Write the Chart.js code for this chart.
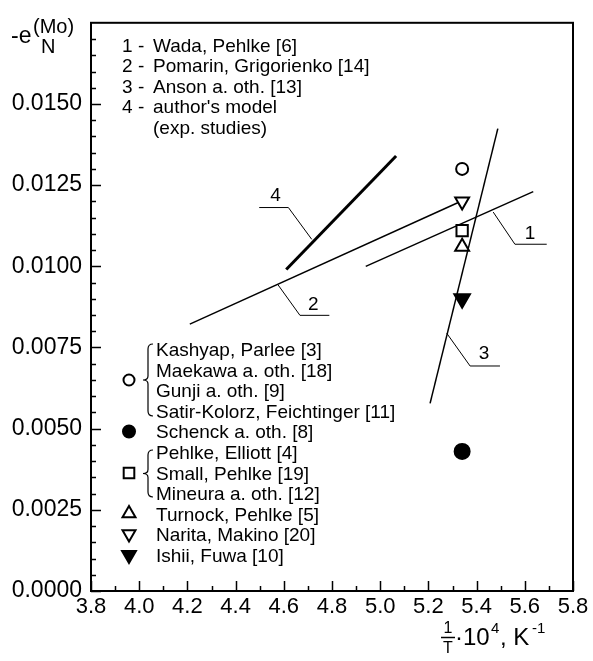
<!DOCTYPE html>
<html>
<head>
<meta charset="utf-8">
<script src="https://cdn.jsdelivr.net/npm/chart.js@4/dist/chart.umd.min.js"></script>
<style>
  html, body { margin: 0; padding: 0; background: #fff; }
  canvas { display: block; }
</style>
</head>
<body>
<canvas id="chart" width="593" height="661"></canvas>
<script>
// axis ticks
const xTicks = [3.8, 4.0, 4.2, 4.4, 4.6, 4.8, 5.0, 5.2, 5.4, 5.6, 5.8];
const yTicks = [0, 0.0025, 0.005, 0.0075, 0.01, 0.0125, 0.015];

// curves 1-4 (end points)
const line1X = [4.94, 5.635];
const line1Y = [0.0100, 0.0123];
const line2X = [4.21, 5.34];
const line2Y = [0.00822, 0.01202];
const line3X = [5.207, 5.488];
const line3Y = [0.00578, 0.01424];
const line4X = [4.61, 5.066];
const line4Y = [0.0099, 0.0134];

// experimental points, all at the same 1/T
const pointX = 5.34;
const pointY = [0.0130, 0.0043, 0.0111, 0.0106, 0.0120, 0.0090];

const curveNotes = ['Wada, Pehlke [6]', 'Pomarin, Grigorienko [14]', 'Anson a. oth. [13]', "author's model"];
const sourceNames = ['Kashyap, Parlee [3]', 'Maekawa a. oth. [18]', 'Gunji a. oth. [9]',
  'Satir-Kolorz, Feichtinger [11]', 'Schenck a. oth. [8]', 'Pehlke, Elliott [4]', 'Small, Pehlke [19]',
  'Mineura a. oth. [12]', 'Turnock, Pehlke [5]', 'Narita, Makino [20]', 'Ishii, Fuwa [10]'];

const FONT = '"Liberation Sans", Arial, Helvetica, sans-serif';

// marker look for each point, same order as pointY; lr = radius in the source list
const markers = [
  { style: 'circle', r: 6, lr: 5.5, fill: '#fff', rot: 0 },
  { style: 'circle', r: 7.5, lr: 6, fill: '#000', rot: 0 },
  { style: 'rect', r: 8, lr: 7.5, fill: '#fff', rot: 0 },
  { style: 'triangle', r: 8, lr: 7.5, fill: '#fff', rot: 0 },
  { style: 'triangle', r: 8, lr: 7.5, fill: '#fff', rot: 180 },
  { style: 'triangle', r: 9, lr: 8, fill: '#000', rot: 180 }
];

function toPoints(xs, ys) {
  return xs.map((x, i) => ({ x: x, y: ys[i] }));
}

const lineSets = [[line1X, line1Y, 1.5], [line2X, line2Y, 1.5], [line3X, line3Y, 1.5], [line4X, line4Y, 3]]
  .map(([xs, ys, w]) => ({
    type: 'line',
    data: toPoints(xs, ys),
    borderColor: '#000',
    borderWidth: w,
    pointRadius: 0,
    fill: false,
    order: 2
  }));

const pointSets = pointY.map((y, i) => ({
  data: [{ x: pointX, y: y }],
  pointStyle: markers[i].style,
  pointRadius: markers[i].r,
  rotation: markers[i].rot,
  backgroundColor: markers[i].fill,
  borderColor: '#000',
  borderWidth: 2,
  order: 1
}));

// small symbol for the source list
function drawSymbol(ctx, m, x, y) {
  const r = m.lr;
  ctx.save();
  ctx.fillStyle = m.fill;
  ctx.strokeStyle = '#000';
  ctx.lineWidth = 2;
  ctx.beginPath();
  if (m.style === 'circle') {
    ctx.arc(x, y, r, 0, Math.PI * 2);
  } else if (m.style === 'rect') {
    const s = r * Math.SQRT1_2;
    ctx.rect(x - s, y - s, 2 * s, 2 * s);
  } else {
    let a = m.rot * Math.PI / 180;
    for (let k = 0; k < 3; k++) {
      const px = x + Math.sin(a) * r, py = y - Math.cos(a) * r;
      if (k === 0) ctx.moveTo(px, py); else ctx.lineTo(px, py);
      a += Math.PI * 2 / 3;
    }
    ctx.closePath();
  }
  ctx.fill();
  ctx.stroke();
  ctx.restore();
}

function brace(ctx, x, top, bottom) {
  const mid = (top + bottom) / 2;
  ctx.beginPath();
  ctx.moveTo(x + 5, top);
  ctx.quadraticCurveTo(x, top, x, top + 5);
  ctx.lineTo(x, mid - 4);
  ctx.quadraticCurveTo(x, mid, x - 5, mid);
  ctx.quadraticCurveTo(x, mid, x, mid + 4);
  ctx.lineTo(x, bottom - 5);
  ctx.quadraticCurveTo(x, bottom, x + 5, bottom);
  ctx.stroke();
}

// leader lines for curve numbers, in data units
const leaders = [
  { label: '1', at: [5.622, 0.0110], path: [[5.469, 0.01167], [5.559, 0.01068], [5.691, 0.01068]] },
  { label: '2', at: [4.722, 0.00883], path: [[4.576, 0.00943], [4.667, 0.00849], [4.789, 0.00849]] },
  { label: '3', at: [5.431, 0.00731], path: [[5.276, 0.00794], [5.373, 0.00693], [5.497, 0.00693]] },
  { label: '4', at: [4.566, 0.01217], path: [[4.498, 0.01181], [4.619, 0.01181], [4.716, 0.01083]] }
];

const decorations = {
  id: 'decorations',
  afterDraw(chart) {
    const ctx = chart.ctx;
    const area = chart.chartArea;
    const xs = chart.scales.x, ys = chart.scales.y;
    ctx.save();
    ctx.strokeStyle = '#000';
    ctx.fillStyle = '#000';

    // frame
    ctx.lineWidth = 2;
    ctx.strokeRect(area.left, area.top, area.right - area.left, area.bottom - area.top);

    // inward ticks, major and minor
    ctx.lineWidth = 1.5;
    ctx.beginPath();
    for (let v = 0; v <= 0.01701; v += 0.0005) {
      const py = Math.round(ys.getPixelForValue(v)) + 0.5;
      const major = Math.abs(v / 0.0025 - Math.round(v / 0.0025)) < 1e-6;
      ctx.moveTo(area.left, py);
      ctx.lineTo(area.left + (major ? 10 : 5), py);
    }
    for (let v = 3.9; v <= 5.75; v += 0.2) {
      const px = Math.round(xs.getPixelForValue(v)) + 0.5;
      ctx.moveTo(px, area.bottom);
      ctx.lineTo(px, area.bottom - 5);
    }
    xTicks.forEach(v => {
      const px = Math.round(xs.getPixelForValue(v)) + 0.5;
      ctx.moveTo(px, area.bottom);
      ctx.lineTo(px, area.bottom - 10);
    });
    ctx.stroke();

    // curve numbers with leaders
    ctx.lineWidth = 1;
    ctx.font = '19px ' + FONT;
    ctx.textAlign = 'center';
    ctx.textBaseline = 'middle';
    leaders.forEach(l => {
      ctx.beginPath();
      l.path.forEach(([x, y], k) => {
        const px = xs.getPixelForValue(x), py = ys.getPixelForValue(y);
        if (k === 0) ctx.moveTo(px, py); else ctx.lineTo(px, py);
      });
      ctx.stroke();
      ctx.fillText(l.label, xs.getPixelForValue(l.at[0]), ys.getPixelForValue(l.at[1]));
    });

    // curve list at top left
    ctx.textAlign = 'left';
    ctx.textBaseline = 'alphabetic';
    curveNotes.forEach((t, i) => {
      const by = 52 + i * 20.4;
      ctx.fillText(String(i + 1), 122, by);
      ctx.fillText('-', 138, by);
      ctx.fillText(t, 153, by);
    });
    ctx.fillText('(exp. studies)', 153, 52 + 4 * 20.4);

    // source list at bottom left
    sourceNames.forEach((t, i) => ctx.fillText(t, 156, 356 + i * 20.6));
    const symY = [380, 431.5, 473, 513.5, 534, 555];
    symY.forEach((y, i) => drawSymbol(ctx, markers[i], 129, y));
    ctx.lineWidth = 1.2;
    brace(ctx, 148, 344, 416);
    brace(ctx, 148, 450, 497);

    // y axis title
    ctx.font = '23px ' + FONT;
    ctx.fillText('-e', 11, 43);
    ctx.font = '20px ' + FONT;
    ctx.fillText('(Mo)', 33, 33);
    ctx.fillText('N', 41, 53);

    // x axis title
    ctx.font = '16px ' + FONT;
    ctx.textAlign = 'center';
    ctx.fillText('1', 448, 633);
    ctx.fillText('T', 448, 653);
    ctx.lineWidth = 1.5;
    ctx.beginPath();
    ctx.moveTo(441, 637.5);
    ctx.lineTo(455, 637.5);
    ctx.stroke();
    ctx.textAlign = 'left';
    ctx.font = '24px ' + FONT;
    ctx.fillText('\u00b710', 455, 645);
    ctx.fillText(', K', 500, 645);
    ctx.font = '15px ' + FONT;
    ctx.fillText('4', 491, 633);
    ctx.fillText('-1', 532, 633);

    ctx.restore();
  }
};

new Chart(document.getElementById('chart'), {
  type: 'scatter',
  data: { datasets: pointSets.concat(lineSets) },
  options: {
    responsive: false,
    animation: false,
    layout: { padding: { top: 15, right: 20, left: 0, bottom: 0 } },
    plugins: { legend: { display: false }, tooltip: { enabled: false } },
    scales: {
      x: {
        type: 'linear',
        min: 3.8,
        max: 5.8,
        afterFit: s => { s.height = 70; },
        afterBuildTicks: s => { s.ticks = xTicks.map(v => ({ value: v })); },
        grid: { display: false, drawTicks: false },
        border: { display: false },
        ticks: {
          padding: 3,
          autoSkip: false,
          maxRotation: 0,
          color: '#000',
          font: { family: FONT, size: 22 },
          callback: v => Number(v).toFixed(1)
        }
      },
      y: {
        type: 'linear',
        min: 0,
        max: 0.0175,
        afterFit: s => { s.width = 91; },
        afterBuildTicks: s => { s.ticks = yTicks.map(v => ({ value: v })); },
        grid: { display: false, drawTicks: false },
        border: { display: false },
        ticks: {
          padding: 9,
          color: '#000',
          font: { family: FONT, size: 23 },
          callback: v => Number(v).toFixed(4)
        }
      }
    }
  },
  plugins: [decorations]
});
</script>
</body>
</html>
